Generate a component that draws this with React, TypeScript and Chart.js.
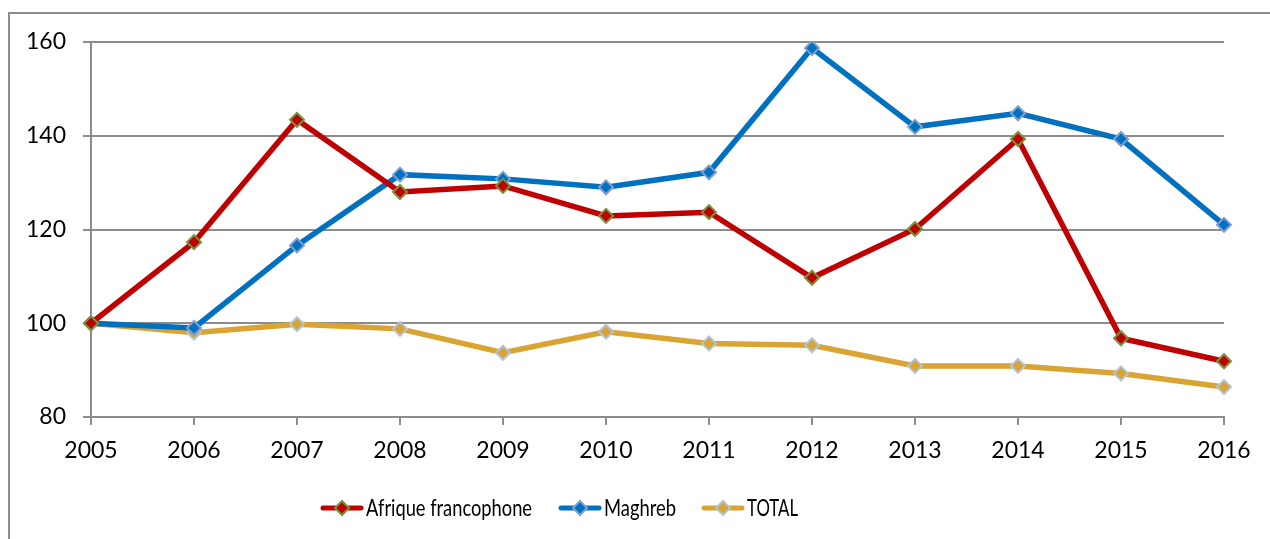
import React, { useEffect, useRef } from "react";
import { Chart, registerables } from "chart.js";

Chart.register(...registerables);

const years = ["2005", "2006", "2007", "2008", "2009", "2010", "2011", "2012", "2013", "2014", "2015", "2016"];
const afrique = [100, 117.3, 143.4, 128.0, 129.3, 122.9, 123.7, 109.7, 120.1, 139.3, 96.8, 91.9];
const maghreb = [100, 99.0, 116.6, 131.7, 130.8, 129.0, 132.2, 158.7, 141.9, 144.8, 139.3, 121.0];
const total = [100, 98.0, 99.8, 98.8, 93.7, 98.2, 95.7, 95.3, 90.9, 90.9, 89.3, 86.4];
const seriesNames = ["Afrique francophone", "Maghreb", "TOTAL"];
const yMin = 80;
const yMax = 160;
const yStep = 20;

const FONT = "Lato, 'Liberation Sans', sans-serif";
const LEGEND_FONT = "'Liberation Sans Narrow', Lato, sans-serif";
const GRID = "#8c8c8c";

// legend layout (line start x, text max width)
const legendLineX = [321, 559, 702];
const legendTextW = [166, 72, 51];

const frameAndLegend = {
  id: "frameAndLegend",
  beforeDraw(chart: any) {
    const ctx = chart.ctx;
    ctx.save();
    ctx.fillStyle = "#ffffff";
    ctx.fillRect(0, 0, chart.width, chart.height);
    ctx.strokeStyle = GRID;
    ctx.lineWidth = 2;
    ctx.beginPath();
    ctx.moveTo(chart.width, 13);
    ctx.lineTo(9, 13);
    ctx.lineTo(9, chart.height);
    ctx.stroke();
    ctx.restore();
  },
  afterDraw(chart: any) {
    const ctx = chart.ctx;
    ctx.save();
    ctx.font = `23px ${LEGEND_FONT}`;
    ctx.textBaseline = "middle";
    const lineLen = 42;
    const textGap = 3;
    const ds = chart.data.datasets;
    const y = 508;
    ds.forEach((d: any, i: number) => {
      const x = legendLineX[i];
      ctx.strokeStyle = d.borderColor;
      ctx.lineWidth = 5;
      ctx.lineCap = "round";
      ctx.beginPath();
      ctx.moveTo(x + 2, y);
      ctx.lineTo(x + lineLen - 2, y);
      ctx.stroke();
      const cx = x + lineLen / 2;
      const r = 7;
      ctx.beginPath();
      ctx.moveTo(cx, y - r);
      ctx.lineTo(cx + r, y);
      ctx.lineTo(cx, y + r);
      ctx.lineTo(cx - r, y);
      ctx.closePath();
      ctx.fillStyle = d.pointBackgroundColor;
      ctx.fill();
      ctx.strokeStyle = d.pointBorderColor;
      ctx.lineWidth = 2;
      ctx.stroke();
      ctx.fillStyle = "#000000";
      ctx.textAlign = "left";
      ctx.fillText(d.label, x + lineLen + textGap, y + 1, legendTextW[i]);
    });
    ctx.restore();
  },
};

export default function App() {
  const ref = useRef<HTMLCanvasElement>(null);
  useEffect(() => {
    if (!ref.current) return;
    const mk = (label: string, data: number[], color: string, pbg: string, pborder: string) => ({
      label,
      data,
      borderColor: color,
      backgroundColor: color,
      borderWidth: 5.5,
      tension: 0,
      pointStyle: "rectRot",
      pointRadius: 7,
      pointHoverRadius: 7,
      pointBackgroundColor: pbg,
      pointBorderColor: pborder,
      pointBorderWidth: 2,
    });
    const chart = new Chart(ref.current, {
      type: "line",
      data: {
        labels: years,
        datasets: [
          mk(seriesNames[0], afrique, "#C00000", "#C00000", "#77933C"),
          mk(seriesNames[1], maghreb, "#0070C0", "#0070C0", "#7F9FCF"),
          mk(seriesNames[2], total, "#D9A431", "#D9A431", "#B0C4DE"),
        ],
      },
      options: {
        responsive: false,
        animation: false,
        layout: { padding: { left: 0, top: 42, right: 46, bottom: 0 } },
        plugins: { legend: { display: false }, tooltip: { enabled: false } },
        scales: {
          x: {
            offset: false,
            grid: { drawOnChartArea: false, drawTicks: true, tickLength: 8, color: GRID, lineWidth: 2 },
            border: { display: true, color: GRID, width: 2 },
            ticks: { color: "#000", font: { family: FONT, size: 23 }, padding: 12, maxRotation: 0 },
            afterFit: (s: any) => { s.height = 122; },
          },
          y: {
            min: yMin,
            max: yMax,
            grid: { drawOnChartArea: true, drawTicks: true, tickLength: 8, color: GRID, lineWidth: 2 },
            border: { display: true, color: GRID, width: 2 },
            ticks: { stepSize: yStep, color: "#000", font: { family: FONT, size: 23 }, padding: 17 },
            afterFit: (s: any) => { s.width = 91; },
          },
        },
      },
      plugins: [frameAndLegend],
    } as any);
    return () => chart.destroy();
  }, []);
  return (
    <div style={{ position: "fixed", left: 0, top: 0, width: 1270, height: 539, background: "#fff" }}>
      <canvas ref={ref} width={1270} height={539} style={{ display: "block" }} />
    </div>
  );
}
